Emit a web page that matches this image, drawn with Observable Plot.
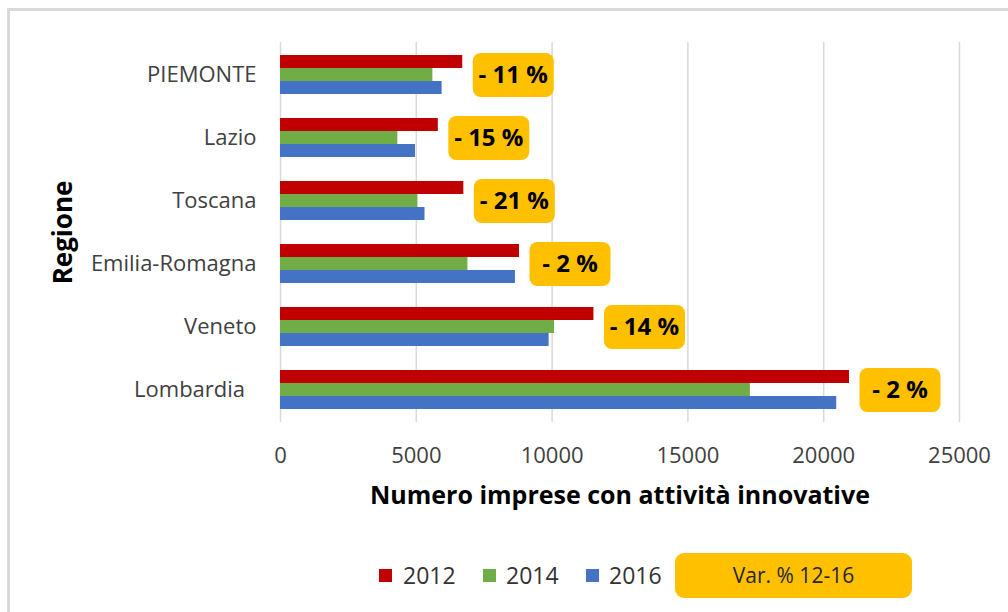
<!DOCTYPE html>
<html>
<head>
<meta charset="utf-8">
<script src="https://cdn.jsdelivr.net/npm/d3@7"></script>
<script src="https://cdn.jsdelivr.net/npm/@observablehq/plot@0.6"></script>
<style>
  html, body { margin: 0; padding: 0; background: #fff; }
  body { width: 1008px; height: 612px; position: relative; overflow: hidden; font-family: 'Open Sans', sans-serif; }
  #frame { position: absolute; left: 7px; top: 8px; width: 1100px; height: 700px; border: 3px solid #d9d9d9; box-sizing: border-box; }
  #chart { position: absolute; left: 0; top: 0; }
  #legend { position: absolute; left: 0; top: 530px; width: 1008px; height: 82px; }
  .sw { position: absolute; width: 13px; height: 13px; top: 39px; }
  .lt { position: absolute; top: 27px; height: 36px; line-height: 36px; font-size: 23px; color: #333; }
  .vbox { position: absolute; left: 675px; top: 23px; width: 237px; height: 45px; border-radius: 9px; background: #FFC000; color: #262626; font-size: 21px; line-height: 45px; text-align: center; }
</style>
</head>
<body>
<div id="frame"></div>
<div id="chart"></div>
<div id="legend"></div>
<script>
// ---- data ----
const regions = ["PIEMONTE", "Lazio", "Toscana", "Emilia-Romagna", "Veneto", "Lombardia"];
const years = ["2012", "2014", "2016"];
const v2012 = [6710, 5810, 6750, 8800, 11540, 20950];
const v2014 = [5610, 4320, 5060, 6900, 10090, 17300];
const v2016 = [5950, 4970, 5320, 8650, 9890, 20480];
const varLabels = ["- 11 %", "- 15 %", "- 21 %", "- 2 %", "- 14 %", "- 2 %"];
const legendBoxLabel = "Var. % 12-16";
const xTicks = [0, 5000, 10000, 15000, 20000, 25000];
const colors = {"2012": "#C00000", "2014": "#70AD47", "2016": "#4472C4"};
const orange = "#FFC000";

const rows = regions.map((r, i) => ({
  region: r, v2012: v2012[i], v2014: v2014[i], v2016: v2016[i],
  max: Math.max(v2012[i], v2014[i], v2016[i]), label: varLabels[i]
}));

// rounded box symbol
const boxSymbol = {
  draw(ctx) {
    const w = 81, h = 44, r = 8;
    const x0 = -w / 2, y0 = -h / 2, x1 = w / 2, y1 = h / 2;
    ctx.moveTo(x0 + r, y0);
    ctx.lineTo(x1 - r, y0);
    ctx.arcTo(x1, y0, x1, y0 + r, r);
    ctx.lineTo(x1, y1 - r);
    ctx.arcTo(x1, y1, x1 - r, y1, r);
    ctx.lineTo(x0 + r, y1);
    ctx.arcTo(x0, y1, x0, y1 - r, r);
    ctx.lineTo(x0, y0 + r);
    ctx.arcTo(x0, y0, x0 + r, y0, r);
    ctx.closePath();
  }
};

const chart = Plot.plot({
  width: 1008,
  height: 530,
  marginLeft: 280,
  marginRight: 49,
  marginTop: 42,
  marginBottom: 108,
  style: {fontFamily: "'Open Sans', sans-serif", fontSize: "22px", color: "#404040", background: "transparent"},
  x: {domain: [0, 25000], ticks: xTicks, tickSize: 0, tickPadding: 25, label: null, tickFormat: d => String(d)},
  y: {domain: regions, paddingInner: 0.385, paddingOuter: 0.1925, tickSize: 0, tickPadding: 24, label: null,
      tickFormat: d => d === "Lombardia" ? d + "\u00a0\u00a0" : d},
  marks: [
    Plot.ruleX(xTicks, {stroke: "#d9d9d9", strokeWidth: 1.5}),
    Plot.barX(rows, {x: "v2012", y: "region", fill: colors["2012"], insetTop: 0, insetBottom: 26}),
    Plot.barX(rows, {x: "v2014", y: "region", fill: colors["2014"], insetTop: 13, insetBottom: 13}),
    Plot.barX(rows, {x: "v2016", y: "region", fill: colors["2016"], insetTop: 26, insetBottom: 0}),
    Plot.dot(rows, {x: "max", y: "region", symbol: boxSymbol, fill: orange, dx: 50.5}),
    Plot.text(rows, {x: "max", y: "region", text: "label", dx: 50.5, fontSize: 24, fontWeight: "bold", fill: "#000"}),
    Plot.text(["Numero imprese con attività innovative"], {frameAnchor: "bottom", dy: 81, fontSize: 25, fontWeight: "bold", fill: "#000"}),
    Plot.text(["Regione"], {frameAnchor: "left", textAnchor: "middle", dx: -217, rotate: -90, fontSize: 26, fontWeight: "bold", fill: "#000"})
  ]
});
document.getElementById("chart").appendChild(chart);

// legend
const legend = document.getElementById("legend");
const swX = [379, 483, 586];
const txX = [403, 506, 609];
years.forEach((y, i) => {
  const s = document.createElement("div");
  s.className = "sw"; s.style.left = swX[i] + "px"; s.style.background = colors[y];
  legend.appendChild(s);
  const t = document.createElement("div");
  t.className = "lt"; t.style.left = txX[i] + "px"; t.textContent = y;
  legend.appendChild(t);
});
const vb = document.createElement("div");
vb.className = "vbox"; vb.textContent = legendBoxLabel;
legend.appendChild(vb);
</script>
</body>
</html>
